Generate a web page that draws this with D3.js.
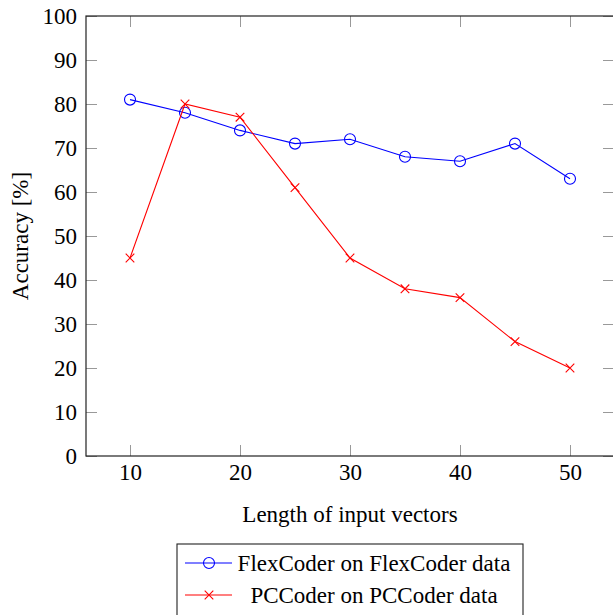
<!DOCTYPE html>
<html>
<head>
<meta charset="utf-8">
<script src="https://cdn.jsdelivr.net/npm/d3@7"></script>
<style>
  body { margin: 0; background: #fff; }
  svg text { font-family: "Liberation Serif", "Times New Roman", serif !important; fill: #000; }
</style>
</head>
<body>
<div class="chart"></div>
<script>
// data
var lengths = [10, 15, 20, 25, 30, 35, 40, 45, 50];
var flexAcc = [81, 78, 74, 71, 72, 68, 67, 71, 63];
var pcAcc   = [45, 80, 77, 61, 45, 38, 36, 26, 20];
var xTicks = [10, 20, 30, 40, 50];
var yTicks = [0, 10, 20, 30, 40, 50, 60, 70, 80, 90, 100];
var seriesNames = ["FlexCoder on FlexCoder data", "PCCoder on PCCoder data"];

var margin = {top: 16, right: -1, bottom: 159, left: 86},
    width = 613 - margin.left - margin.right,
    height = 615 - margin.top - margin.bottom;

var x = d3.scaleLinear().domain([6, 54]).range([0, width]);
var y = d3.scaleLinear().domain([0, 100]).range([height, 0]);

var svg = d3.select(".chart").append("svg")
    .attr("width", 613)
    .attr("height", 615);
var g = svg.append("g")
    .attr("transform", "translate(" + margin.left + "," + margin.top + ")");

// inside ticks on all four sides
function tickStyle(sel) {
  sel.attr("font-family", null).attr("font-size", null);
  sel.select(".domain").remove();
  sel.selectAll(".tick line").attr("stroke", "#999").attr("stroke-width", 1);
  sel.selectAll("text").style("font-size", "23px");
}

g.append("g")
    .attr("transform", "translate(0," + height + ")")
    .call(d3.axisBottom(x).tickValues(xTicks).tickSizeInner(-11).tickSizeOuter(0).tickPadding(8))
    .call(tickStyle);
g.append("g")
    .call(d3.axisLeft(y).tickValues(yTicks).tickSizeInner(-11).tickSizeOuter(0).tickPadding(9))
    .call(tickStyle);
g.append("g")
    .call(d3.axisTop(x).tickValues(xTicks).tickSizeInner(-11).tickSizeOuter(0).tickFormat(""))
    .call(tickStyle);
g.append("g")
    .attr("transform", "translate(" + width + ",0)")
    .call(d3.axisRight(y).tickValues(yTicks).tickSizeInner(-11).tickSizeOuter(0).tickFormat(""))
    .call(tickStyle);

// frame
g.append("rect")
    .attr("width", width).attr("height", height)
    .attr("fill", "none").attr("stroke", "#222").attr("stroke-width", 1.2);

var line = d3.line()
    .x(function(d, i) { return x(lengths[i]); })
    .y(function(d) { return y(d); });

// FlexCoder series
g.append("path")
    .datum(flexAcc)
    .attr("d", line)
    .attr("fill", "none").attr("stroke", "#0000ff").attr("stroke-width", 1.1);
g.selectAll(".flexpt").data(flexAcc).enter().append("circle")
    .attr("cx", function(d, i) { return x(lengths[i]); })
    .attr("cy", function(d) { return y(d); })
    .attr("r", 5.5)
    .attr("fill", "none").attr("stroke", "#0000ff").attr("stroke-width", 1.1);

// PCCoder series
g.append("path")
    .datum(pcAcc)
    .attr("d", line)
    .attr("fill", "none").attr("stroke", "#ff0000").attr("stroke-width", 1.1);
var cross = d3.symbol().type(d3.symbolX).size(50);
g.selectAll(".pcpt").data(pcAcc).enter().append("path")
    .attr("transform", function(d, i) { return "translate(" + x(lengths[i]) + "," + y(d) + ")"; })
    .attr("d", cross)
    .attr("fill", "none").attr("stroke", "#ff0000").attr("stroke-width", 1.1);

// axis labels
svg.append("text")
    .attr("x", 350).attr("y", 522)
    .attr("text-anchor", "middle")
    .style("font-size", "23px")
    .text("Length of input vectors");
svg.append("text")
    .attr("transform", "translate(28,236) rotate(-90)")
    .attr("text-anchor", "middle")
    .style("font-size", "23px")
    .text("Accuracy [%]");

// legend
var legend = svg.append("g").attr("transform", "translate(177,544)");
legend.append("rect")
    .attr("width", 346).attr("height", 80)
    .attr("fill", "#fff").attr("stroke", "#222").attr("stroke-width", 1.1);
var rows = legend.selectAll(".row").data(seriesNames).enter().append("g")
    .attr("transform", function(d, i) { return "translate(0," + (19 + i * 32) + ")"; });
rows.append("line")
    .attr("x1", 8).attr("x2", 55).attr("y1", 0).attr("y2", 0)
    .attr("stroke", function(d, i) { return i ? "#ff0000" : "#0000ff"; })
    .attr("stroke-width", 1.1);
rows.filter(function(d, i) { return i === 0; }).append("circle")
    .attr("cx", 32).attr("cy", 0).attr("r", 5.5)
    .attr("fill", "none").attr("stroke", "#0000ff").attr("stroke-width", 1.1);
rows.filter(function(d, i) { return i === 1; }).append("path")
    .attr("transform", "translate(32,0)")
    .attr("d", cross)
    .attr("fill", "none").attr("stroke", "#ff0000").attr("stroke-width", 1.1);
rows.append("text")
    .attr("x", 197).attr("y", 8)
    .attr("text-anchor", "middle")
    .style("font-size", "23px")
    .text(function(d) { return d; });
</script>
</body>
</html>
